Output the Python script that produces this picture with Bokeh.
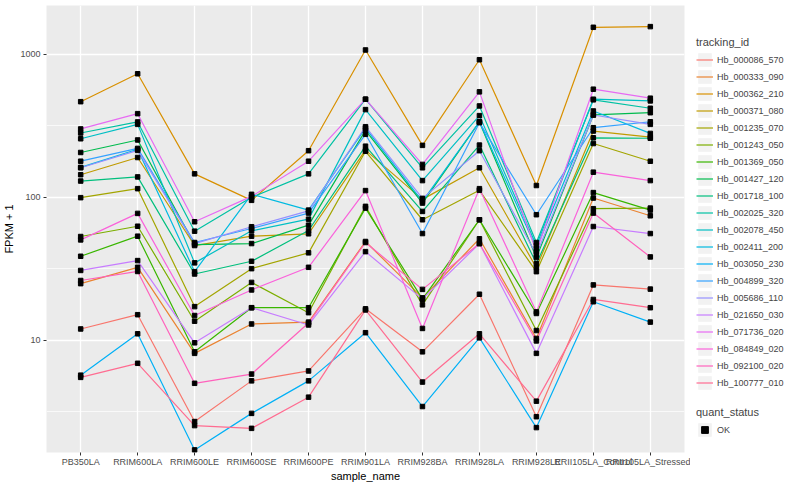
from bokeh.plotting import figure
from bokeh.models import Range1d, FixedTicker, Legend, LegendItem
from bokeh.layouts import row
from bokeh.embed import file_html
from bokeh.resources import INLINE

samples = ["PB350LA", "RRIM600LA", "RRIM600LE", "RRIM600SE", "RRIM600PE",
           "RRIM901LA", "RRIM928BA", "RRIM928LA", "RRIM928LE",
           "RRII105LA_Control", "RRII105LA_Stressed"]

tracking_ids = ["Hb_000086_570", "Hb_000333_090", "Hb_000362_210", "Hb_000371_080",
                "Hb_001235_070", "Hb_001243_050", "Hb_001369_050", "Hb_001427_120",
                "Hb_001718_100", "Hb_002025_320", "Hb_002078_450", "Hb_002411_200",
                "Hb_003050_230", "Hb_004899_320", "Hb_005686_110", "Hb_021650_030",
                "Hb_071736_020", "Hb_084849_020", "Hb_092100_020", "Hb_100777_010"]

colors = ["#F8766D", "#EA8331", "#D89000", "#C09B00", "#A3A500", "#7CAE00",
          "#39B600", "#00BB4E", "#00BF7D", "#00C1A3", "#00BFC4", "#00BAE0",
          "#00B0F6", "#35A2FF", "#9590FF", "#C77CFF", "#E76BF3", "#FA62DB",
          "#FF62BC", "#FF6C91"]

# FPKM + 1 per sample (same order as samples)
hb_000086_570 = [12.0, 15.1, 2.70, 5.2, 6.1, 16.6, 8.3, 21.0, 2.92, 24.4, 22.8]
hb_000333_090 = [24.9, 32.4, 8.1, 13.0, 13.4, 49.1, 19.8, 51.3, 10.3, 98.9, 74.3]
hb_000362_210 = [467, 732, 146, 95.3, 212, 1074, 231, 918, 121, 1548, 1565]
hb_000371_080 = [144, 190, 46.0, 53.5, 55.6, 214, 96.8, 161, 32.2, 291, 264]
hb_001235_070 = [99.5, 115, 17.2, 31.7, 40.9, 210, 69.7, 112, 30.2, 238, 179]
hb_001243_050 = [53.2, 62.8, 13.6, 25.4, 15.6, 86.5, 17.7, 69.7, 11.7, 83.3, 84.1]
hb_001369_050 = [38.7, 53.5, 8.3, 16.9, 16.9, 84.1, 19.4, 69.7, 15.4, 108, 81.4]
hb_001427_120 = [206, 252, 46.7, 47.5, 63.9, 294, 91.2, 337, 37.9, 377, 391]
hb_001718_100 = [130, 139, 29.1, 35.7, 58.6, 228, 79.7, 232, 34.4, 261, 259]
hb_002025_320 = [282, 337, 58.0, 100, 146, 486, 161, 436, 48.3, 481, 420]
hb_002078_450 = [257, 324, 34.8, 58.3, 70.4, 411, 131, 373, 46.0, 486, 473]
hb_002411_200 = [162, 217, 30.2, 105, 81.4, 305, 93.7, 338, 43.8, 402, 280]
hb_003050_230 = [5.7, 11.1, 1.71, 3.08, 5.2, 11.3, 3.44, 10.4, 2.45, 18.6, 13.4]
hb_004899_320 = [179, 220, 48.3, 60.5, 77.6, 276, 55.8, 333, 75.6, 307, 338]
hb_005686_110 = [161, 213, 47.5, 62.3, 80.4, 312, 98.4, 212, 39.8, 377, 324]
hb_021650_030 = [30.8, 36.1, 9.6, 16.9, 12.8, 41.7, 19.4, 47.5, 8.1, 62.5, 55.8]
hb_071736_020 = [301, 385, 67.5, 101.6, 179, 486, 170, 547, 41.7, 571, 494]
hb_084849_020 = [50.4, 77.2, 14.9, 22.5, 32.4, 111.5, 12.1, 115, 15.8, 150, 131]
hb_092100_020 = [26.2, 30.3, 5.0, 5.8, 13.2, 48.3, 22.7, 47.5, 9.9, 77.6, 38.3]
hb_100777_010 = [5.5, 6.9, 2.53, 2.42, 4.0, 16.3, 5.1, 11.1, 3.75, 19.3, 16.9]

series = [hb_000086_570, hb_000333_090, hb_000362_210, hb_000371_080, hb_001235_070,
          hb_001243_050, hb_001369_050, hb_001427_120, hb_001718_100, hb_002025_320,
          hb_002078_450, hb_002411_200, hb_003050_230, hb_004899_320, hb_005686_110,
          hb_021650_030, hb_071736_020, hb_084849_020, hb_092100_020, hb_100777_010]

quant_status = ["OK"]
y_major_ticks = [10, 100, 1000]
y_minor_ticks = [10 ** 0.5, 10 ** 1.5, 10 ** 2.5]
y_limits = (1.64, 2199)

FONT = "Liberation Sans"
x_idx = list(range(len(samples)))

p = figure(width=690, height=484, y_axis_type="log",
           x_range=Range1d(-0.6, len(samples) - 1 + 0.6),
           y_range=Range1d(*y_limits),
           output_backend="svg", toolbar_location=None,
           min_border_left=37, min_border_right=6, min_border_top=5, min_border_bottom=20)
p.background_fill_color = "#EBEBEB"
p.border_fill_color = "white"
p.outline_line_color = None

p.xaxis.ticker = FixedTicker(ticks=x_idx, minor_ticks=[])
p.xaxis.major_label_overrides = {i: s for i, s in enumerate(samples)}
p.yaxis.ticker = FixedTicker(ticks=y_major_ticks, minor_ticks=y_minor_ticks)
p.yaxis.major_label_overrides = {t: str(t) for t in y_major_ticks}

for ax in (p.xaxis, p.yaxis):
    ax.axis_line_color = None
    ax.major_tick_line_color = "#333333"
    ax.major_tick_out = 3
    ax.major_tick_in = 0
    ax.minor_tick_line_color = None
    ax.major_label_text_font = FONT
    ax.major_label_text_font_size = "9px"
    ax.major_label_text_color = "#4D4D4D"
    ax.major_label_standoff = 2
    ax.axis_label_text_font = FONT
    ax.axis_label_text_font_size = "11px"
    ax.axis_label_text_font_style = "normal"
    ax.axis_label_text_color = "black"
    ax.axis_label_standoff = 2

p.xaxis.axis_label = "sample_name"
p.yaxis.axis_label = "FPKM + 1"
p.xaxis.major_label_standoff = 1
p.xaxis.axis_label_standoff = 0

p.xgrid.grid_line_color = "white"
p.xgrid.grid_line_width = 1.3
p.ygrid.grid_line_color = "white"
p.ygrid.grid_line_width = 1.3
p.ygrid.minor_grid_line_color = "white"
p.ygrid.minor_grid_line_width = 0.7

for vals, c in zip(series, colors):
    p.line(x_idx, vals, line_color=c, line_width=1.2)
for vals in series:
    p.scatter(x_idx, vals, marker="square", size=4.5, color="black")

# legend panel (dummy renderers sit outside the visible range)
lf = figure(width=94, height=484, x_range=Range1d(0, 1), y_range=Range1d(0, 1),
            x_axis_type=None, y_axis_type=None, output_backend="svg",
            toolbar_location=None, min_border=0)
lf.outline_line_color = None
lf.background_fill_color = "white"
lf.border_fill_color = "white"

off_x = [-10, -9]
off_y = [-10, -10]
key_bg = lf.rect(x=off_x, y=off_y, width=1, height=1, fill_color="#F2F2F2", line_color=None)
items = []
for tid, c in zip(tracking_ids, colors):
    ln = lf.line(x=off_x, y=off_y, line_color=c, line_width=1.2)
    items.append(LegendItem(label=tid, renderers=[key_bg, ln]))
ok_r = lf.scatter(x=off_x, y=off_y, marker="square", size=4, color="black")
items2 = [LegendItem(label=quant_status[0], renderers=[key_bg, ok_r])]


def style_legend(lg):
    lg.glyph_width = 17
    lg.glyph_height = 17
    lg.label_height = 17
    lg.spacing = 0
    lg.padding = 0
    lg.margin = 0
    lg.label_standoff = 4
    lg.label_text_font = FONT
    lg.label_text_font_size = "9px"
    lg.title_text_font = FONT
    lg.title_text_font_size = "11px"
    lg.title_text_font_style = "normal"
    lg.title_standoff = 3
    lg.border_line_color = None
    lg.background_fill_alpha = 0


lg1 = Legend(items=items, title="tracking_id", location=(6, 61))
lg2 = Legend(items=items2, title="quant_status", location=(6, 14))
style_legend(lg1)
style_legend(lg2)
lf.add_layout(lg1)
lf.add_layout(lg2)

layout = row(p, lf)
open("out.html", "w").write(file_html(layout, INLINE))
